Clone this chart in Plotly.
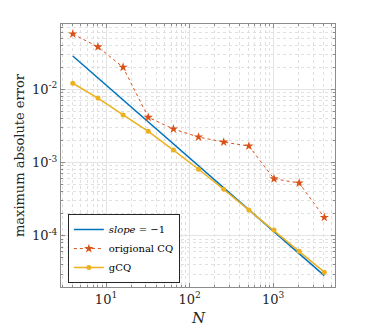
import plotly.graph_objects as go

# data
N = [4, 8, 16, 32, 64, 128, 256, 512, 1024, 2048, 4096]
err_cq = [5.7e-2, 3.8e-2, 2.0e-2, 4.14e-3, 2.87e-3, 2.23e-3, 1.9e-3, 1.68e-3,
          6.0e-4, 5.25e-4, 1.78e-4]
err_gcq = [1.21e-2, 7.6e-3, 4.46e-3, 2.67e-3, 1.48e-3, 8.1e-4, 4.3e-4, 2.24e-4,
           1.2e-4, 6.16e-5, 3.18e-5]
slope_N = [4, 4096]
slope_err = [2.85e-2, 2.85e-5]

x_ticks = [10, 100, 1000]
x_labels = ['10<sup>1</sup>', '10<sup>2</sup>', '10<sup>3</sup>']
y_ticks = [1e-4, 1e-3, 1e-2]
y_labels = ['10<sup>-4</sup>', '10<sup>-3</sup>', '10<sup>-2</sup>']

# minor tick positions (2..9 within each decade)
x_minor = [m * 10 ** e for e in range(0, 4) for m in range(2, 10)]
y_minor = [m * 10.0 ** e for e in range(-5, -1) for m in range(2, 10)]

font = 'DejaVu Serif'

fig = go.Figure()
fig.add_trace(go.Scatter(
    x=slope_N, y=slope_err, mode='lines', name='<i>slope</i> = −1',
    line=dict(color='#0072BD', width=1.5)
))
fig.add_trace(go.Scatter(
    x=N, y=err_cq, mode='lines+markers', name='origional CQ',
    line=dict(color='#D95319', width=1, dash='dot'),
    marker=dict(symbol='star', size=7, color='#D95319')
))
fig.add_trace(go.Scatter(
    x=N, y=err_gcq, mode='lines+markers', name='gCQ',
    line=dict(color='#EDB120', width=1.5),
    marker=dict(symbol='circle', size=5, color='#EDB120')
))

axis_common = dict(
    type='log',
    showline=True, linecolor='#8c8c8c', linewidth=1, mirror='ticks',
    ticks='inside', ticklen=4, tickcolor='#8c8c8c',
    showgrid=True, gridcolor='#e4e4e4', gridwidth=1,
    zeroline=False,
    tickfont=dict(family=font, size=13, color='#262626'),
)

# the page body adds an 8px offset, so the figure is a bit smaller than the window
fig.update_layout(
    width=363, height=319,
    margin=dict(l=53, r=36, t=16, b=40),
    paper_bgcolor='white', plot_bgcolor='white',
    font=dict(family=font, color='#262626'),
    xaxis=dict(axis_common, range=[0.461, 3.74],
               tickvals=x_ticks, ticktext=x_labels,
               minor=dict(tickvals=x_minor, ticks='inside', ticklen=2, tickcolor='#8c8c8c',
                          showgrid=True, gridcolor='#e0e0e0', griddash='dot')),
    yaxis=dict(axis_common, range=[-4.70, -1.108],
               tickvals=y_ticks, ticktext=y_labels,
               minor=dict(tickvals=y_minor, ticks='inside', ticklen=2, tickcolor='#8c8c8c',
                          showgrid=True, gridcolor='#e0e0e0', griddash='dot'),
               title=dict(text='maximum absolute error', font=dict(family=font, size=13), standoff=4)),
    legend=dict(
        x=0.025, y=0.015, xanchor='left', yanchor='bottom',
        bgcolor='white', bordercolor='#262626', borderwidth=1,
        font=dict(family=font, size=10, color='#000000'),
        tracegroupgap=0, itemwidth=30,
    ),
    annotations=[dict(text='<i>N</i>', xref='paper', yref='paper', x=0.5, y=-0.118,
                      xanchor='center', yanchor='middle', showarrow=False,
                      font=dict(family=font, size=15, color='#262626'))],
    showlegend=True,
)

fig.write_html('out.html')
